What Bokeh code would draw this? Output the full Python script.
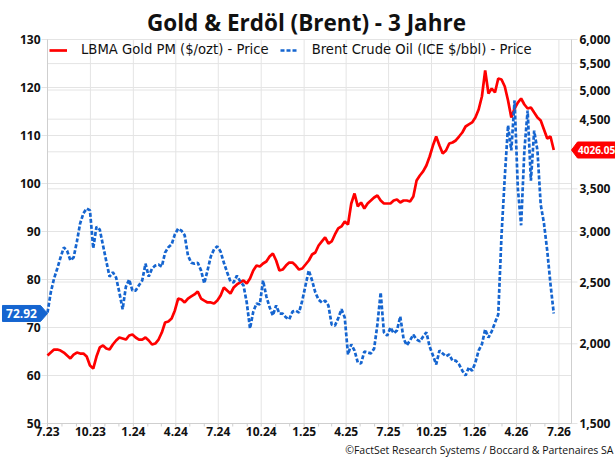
import math
import pandas as pd
from bokeh.plotting import figure
from bokeh.models import Range1d, LogScale, Legend, LegendItem
from bokeh.core.properties import value
from bokeh.embed import file_html
from bokeh.resources import INLINE

# ---------------- data ----------------
START = "2023-07-01"
END = "2026-07-28"

# Brent crude oil (ICE $/bbl), weekly, left axis
brent = [
    73.1, 77.3, 80.2, 82.3, 84.6, 86.7, 86.0, 84.0, 84.6, 87.9,
    91.7, 93.8, 94.8, 94.4, 86.5, 91.0, 90.4, 87.1, 83.8, 80.6,
    81.5, 80.4, 77.3, 73.8, 78.5, 80.0, 77.7, 77.7, 78.8, 79.8,
    83.3, 80.6, 82.3, 82.9, 83.1, 82.7, 85.6, 86.7, 87.3, 89.4,
    90.6, 90.2, 89.2, 85.0, 83.5, 83.3, 83.5, 81.9, 79.2, 81.9,
    84.8, 86.3, 86.9, 85.8, 83.5, 81.5, 79.6, 79.4, 80.8, 79.6,
    78.8, 75.2, 69.8, 73.3, 75.0, 74.8, 79.8, 76.5, 74.2, 72.5,
    74.6, 72.9, 72.9, 72.1, 71.7, 73.3, 73.5, 73.1, 75.6, 78.8,
    81.9, 79.8, 77.3, 75.8, 75.2, 75.6, 74.6, 70.6, 70.4, 71.9,
    73.8, 72.1, 64.4, 66.5, 65.2, 62.7, 62.5, 65.0, 64.8, 64.6,
    65.6, 70.6, 77.3, 69.0, 68.3, 70.0, 68.8, 69.4, 72.3, 67.7,
    66.3, 67.3, 68.5, 67.5, 67.1, 68.1, 69.0, 66.0, 64.2, 62.3,
    65.2, 64.6, 64.0, 64.4, 63.1, 63.1, 62.3, 61.0, 60.0, 61.7,
    61.0, 62.7, 65.2, 66.5, 69.6, 67.9, 69.2, 71.0, 72.7, 89.2,
    101.3, 112.1, 106.9, 117.3, 99.0, 91.3, 106.9, 115.2, 100.6, 111.0,
    106.9, 95.6, 91.7, 86.0, 79.0, 72.92,
]

# LBMA Gold PM ($/ozt), weekly, right (log) axis
gold = [
    1917, 1938, 1959, 1959, 1952, 1938, 1917, 1897, 1924, 1938,
    1931, 1931, 1910, 1849, 1829, 1910, 1974, 1988, 1966, 1959,
    1995, 2024, 2046, 2039, 2031, 2061, 2068, 2046, 2031, 2031,
    2046, 2024, 1995, 2002, 2031, 2083, 2160, 2168, 2191, 2256,
    2355, 2347, 2322, 2355, 2373, 2390, 2416, 2355, 2338, 2322,
    2322, 2313, 2338, 2381, 2451, 2424, 2398, 2451, 2478, 2496,
    2514, 2487, 2532, 2606, 2653, 2644, 2673, 2692, 2741, 2771,
    2702, 2606, 2615, 2653, 2682, 2682, 2653, 2615, 2625, 2663,
    2702, 2761, 2781, 2852, 2894, 2936, 2873, 2894, 2968, 3033,
    3055, 3110, 3077, 3319, 3441, 3284, 3331, 3260, 3319, 3355,
    3392, 3416, 3355, 3319, 3319, 3319, 3355, 3368, 3331, 3355,
    3355, 3343, 3404, 3607, 3672, 3726, 3807, 3933, 4092, 4227,
    4092, 3976, 4019, 4122, 4137, 4167, 4227, 4289, 4383, 4415,
    4447, 4528, 4660, 4884, 5365, 4937, 5027, 4955, 5212, 5193,
    5064, 4814, 4528, 4677, 4779, 4849, 4745, 4677, 4694, 4610,
    4528, 4479, 4336, 4197, 4227, 4026.05,
]

tick_dates = ["2023-07-01", "2023-10-01", "2024-01-01", "2024-04-01", "2024-07-01",
              "2024-10-01", "2025-01-01", "2025-04-01", "2025-07-01", "2025-10-01",
              "2026-01-01", "2026-04-01", "2026-07-01"]
tick_labels = ["7.23", "10.23", "1.24", "4.24", "7.24", "10.24", "1.25", "4.25",
               "7.25", "10.25", "1.26", "4.26", "7.26"]
brent_ticks = [50, 60, 70, 80, 90, 100, 110, 120, 130]
brent_tick_labels = ["50", "60", "70", "80", "90", "100", "110", "120", "130"]
gold_ticks = [1500, 2000, 2500, 3000, 3500, 4000, 4500, 5000, 5500, 6000]
gold_tick_labels = ["1,500", "2,000", "2,500", "3,000", "3,500", "",
                    "4,500", "5,000", "5,500", "6,000"]

title = "Gold & Erdöl (Brent) - 3 Jahre"
gold_name = "LBMA Gold PM ($/ozt) - Price"
brent_name = "Brent Crude Oil (ICE $/bbl) - Price"
source = "\u00a9FactSet Research Systems / Boccard & Partenaires SA"

last_brent = brent[-1]
last_gold = gold[-1]

# ---------------- style / layout ----------------
FONT = "Open Sans"
LEG_FONT = "DejaVu Sans"
GRID = "#e4e4e4"
AXIS = "#cfcfcf"
RED = "#FF0000"
BLUE = "#1565D0"
TXT = "#111111"
W, H = 615, 457
TOP, BOTTOM = 39, 423          # pixel rows of the plotting area
LEFT, RIGHT = 47, 571          # pixel columns of the plotting area
B_MIN, B_MAX = brent_ticks[0], brent_ticks[-1]
G_MIN, G_MAX = gold_ticks[0], gold_ticks[-1]


def ms(d):
    return pd.Timestamp(d).value // 10**6


x0, x1 = ms(START), ms(END)
px_x = (x1 - x0) / (RIGHT - LEFT)                 # ms per pixel
px_b = (B_MAX - B_MIN) / (BOTTOM - TOP)           # brent units per pixel
px_g = math.log(G_MAX / G_MIN) / (BOTTOM - TOP)   # log-gold per pixel

x_range = Range1d(x0 - LEFT * px_x, x1 + (W - RIGHT) * px_x)
y_range = Range1d(B_MIN - (H - BOTTOM) * px_b, B_MAX + TOP * px_b)

p = figure(width=W, height=H, x_range=x_range, y_range=y_range,
           x_axis_location=None, y_axis_location=None,
           output_backend="svg", toolbar_location=None,
           min_border=0, min_border_top=0, min_border_left=0,
           min_border_right=0, min_border_bottom=0)
p.extra_y_ranges = {"gold": Range1d(G_MIN * math.exp(-(H - BOTTOM) * px_g),
                                    G_MAX * math.exp(TOP * px_g))}
p.extra_y_scales = {"gold": LogScale()}
p.grid.visible = False
p.outline_line_color = None
p.background_fill_color = "white"

major_ms = [ms(d) for d in tick_dates]
minor_ms = [ms(d) for d in pd.date_range(tick_dates[0], tick_dates[-1], freq="MS")]
nb, ng, nx, nm = len(brent_ticks), len(gold_ticks), len(major_ms), len(minor_ms)

# title
p.text(x=[(x_range.start + x_range.end) / 2 - 1.5 * px_x], y=[B_MAX + (TOP - 22) * px_b],
       text=[title], text_align="center", text_baseline="middle", text_color=TXT,
       text_font=value(FONT), text_font_size="22.5px", text_font_style="bold")

# grid lines (+ outer tick marks)
p.segment(x0=[x0 - 6 * px_x] * nb, x1=[x1] * nb, y0=brent_ticks, y1=brent_ticks,
          line_color=GRID, line_width=1)
p.segment(x0=[x0] * ng, x1=[x1 + 6 * px_x] * ng, y0=gold_ticks, y1=gold_ticks,
          y_range_name="gold", line_color=GRID, line_width=1)
p.segment(x0=major_ms, x1=major_ms, y0=[B_MIN] * nx, y1=[B_MAX] * nx,
          line_color=GRID, line_width=1)

# axis lines and x tick marks
p.segment(x0=[x0, x1, x0], x1=[x0, x1, x1], y0=[B_MIN, B_MIN, B_MIN],
          y1=[B_MAX, B_MAX, B_MIN], line_color=AXIS, line_width=1)
p.segment(x0=minor_ms, x1=minor_ms, y0=[B_MIN] * nm, y1=[B_MIN - 3 * px_b] * nm,
          line_color=AXIS, line_width=1)

# tick labels
tick_style = dict(text_font=value(FONT), text_font_size="12px",
                  text_font_style="bold", text_color=TXT)
p.text(x=[x0] * nb, y=brent_ticks, text=brent_tick_labels, x_offset=-7,
       text_align="right", text_baseline="middle", **tick_style)
p.text(x=[x1] * ng, y=gold_ticks, text=gold_tick_labels, x_offset=8,
       text_align="left", text_baseline="middle", y_range_name="gold", **tick_style)
p.text(x=major_ms, y=[B_MIN] * nx, text=tick_labels, y_offset=3,
       text_align="center", text_baseline="top", **tick_style)

# series
gold_x = [ms(d) for d in pd.date_range(START, periods=len(gold), freq="7D")]
brent_x = [ms(d) for d in pd.date_range(START, periods=len(brent), freq="7D")]
rg = p.line(gold_x, gold, y_range_name="gold", line_color=RED, line_width=2.7)
rb = p.line(brent_x, brent, line_color=BLUE, line_width=2.7, line_dash="4 2")

leg = Legend(items=[LegendItem(label=gold_name, renderers=[rg]),
                    LegendItem(label=brent_name, renderers=[rb])],
             orientation="horizontal", location=(49, 400),
             border_line_color=None, background_fill_alpha=0,
             label_text_font=LEG_FONT, label_text_font_size="13.2px",
             label_text_color=TXT, glyph_width=18, glyph_height=12,
             label_standoff=14, spacing=11, padding=0, margin=0)
p.add_layout(leg)

# last-value tags
hb = 8 * px_b
p.patch(x=[x0 - 45 * px_x, x0 - 7 * px_x, x0, x0 - 7 * px_x, x0 - 45 * px_x],
        y=[last_brent + hb, last_brent + hb, last_brent, last_brent - hb, last_brent - hb],
        fill_color=BLUE, line_color=BLUE)
p.text(x=[x0 - 26 * px_x], y=[last_brent], text=[f"{last_brent:.2f}"],
       text_align="center", text_baseline="middle", text_color="white",
       text_font=value(FONT), text_font_size="12px", text_font_style="bold")
fg = math.exp(8 * px_g)
p.patch(x=[x1, x1 + 6 * px_x, x1 + 50 * px_x, x1 + 50 * px_x, x1 + 6 * px_x],
        y=[last_gold, last_gold * fg, last_gold * fg, last_gold / fg, last_gold / fg],
        y_range_name="gold", fill_color=RED, line_color=RED)
p.text(x=[x1 + 6.5 * px_x], y=[last_gold], text=[f"{last_gold:.2f}"],
       y_range_name="gold", text_align="left", text_baseline="middle",
       text_color="white", text_font=value(FONT), text_font_size="10px",
       text_font_style="bold")

# source line
p.text(x=[x_range.end - 2 * px_x], y=[B_MIN], text=[source], y_offset=26,
       text_align="right", text_baseline="middle", text_color=TXT,
       text_font=value(FONT), text_font_size="10.5px")

open("out.html", "w").write(file_html(p, INLINE))
